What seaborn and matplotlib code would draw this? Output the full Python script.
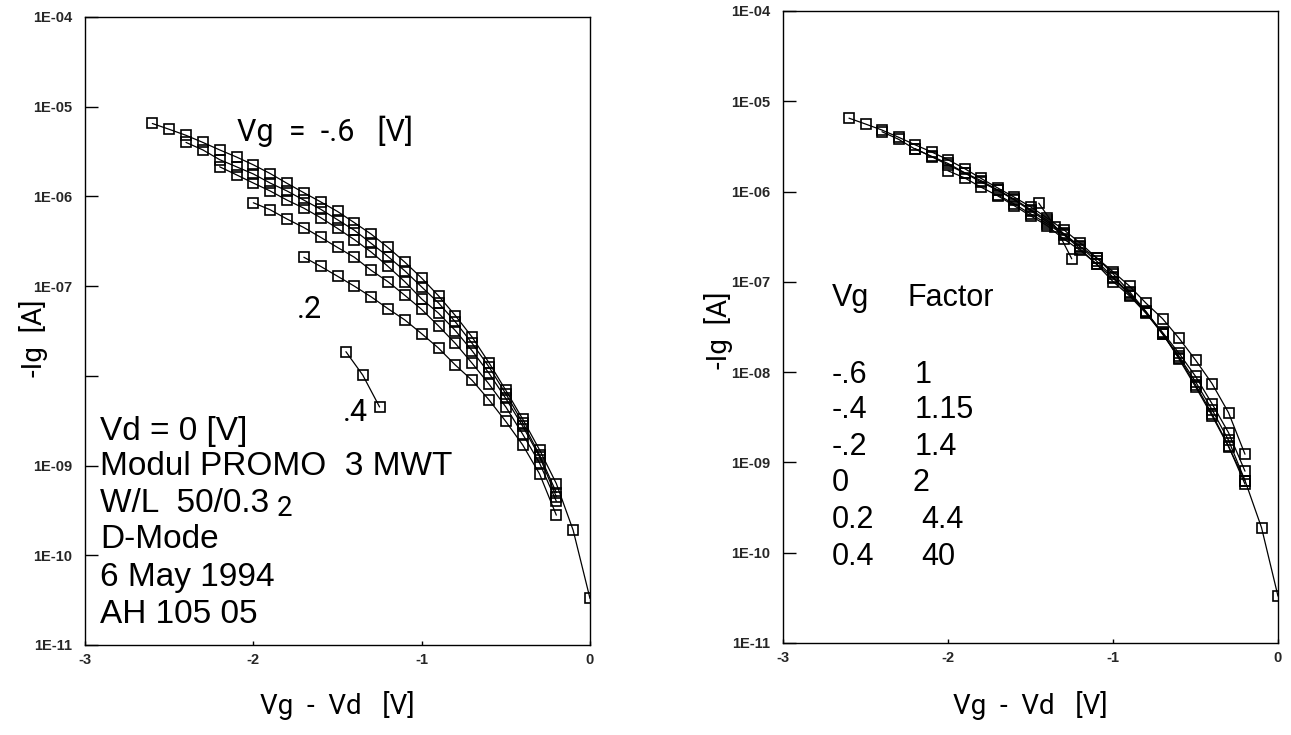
import numpy as np
import pandas as pd
import matplotlib
matplotlib.use("Agg")
import matplotlib.pyplot as plt
import seaborn as sns
from matplotlib.ticker import FixedLocator, NullLocator

# ---------------- data ----------------
vg_labels = ["-.6", "-.4", "-.2", "0", "0.2", "0.4"]
factor_labels = ["1", "1.15", "1.4", "2", "4.4", "40"]
factors = [1.0, 1.15, 1.4, 2.0, 4.4, 40.0]

x_m06 = [-2.6, -2.5, -2.4, -2.3, -2.2, -2.1, -2.0, -1.9, -1.8, -1.7, -1.6, -1.5, -1.4,
         -1.3, -1.2, -1.1, -1.0, -0.9, -0.8, -0.7, -0.6, -0.5, -0.4, -0.3, -0.2, -0.1, 0.0]
ig_m06 = [6.5e-6, 5.6e-6, 4.8e-6, 4.0e-6, 3.3e-6, 2.75e-6, 2.25e-6, 1.8e-6, 1.4e-6, 1.1e-6,
          8.7e-7, 6.8e-7, 5.1e-7, 3.8e-7, 2.7e-7, 1.85e-7, 1.23e-7, 7.8e-8, 4.7e-8, 2.7e-8,
          1.4e-8, 6.9e-9, 3.3e-9, 1.5e-9, 6.3e-10, 1.9e-10, 3.3e-11]

x_m04 = [-2.4, -2.3, -2.2, -2.1, -2.0, -1.9, -1.8, -1.7, -1.6, -1.5, -1.4, -1.3, -1.2,
         -1.1, -1.0, -0.9, -0.8, -0.7, -0.6, -0.5, -0.4, -0.3, -0.2]
ig_m04 = [4.0e-6, 3.3e-6, 2.57e-6, 2.14e-6, 1.78e-6, 1.41e-6, 1.15e-6, 9.1e-7, 7.2e-7,
          5.5e-7, 4.2e-7, 3.0e-7, 2.14e-7, 1.48e-7, 9.8e-8, 6.5e-8, 4.0e-8, 2.3e-8,
          1.26e-8, 6.3e-9, 3.0e-9, 1.32e-9, 5.0e-10]

x_m02 = [-2.2, -2.1, -2.0, -1.9, -1.8, -1.7, -1.6, -1.5, -1.4, -1.3, -1.2, -1.1, -1.0,
         -0.9, -0.8, -0.7, -0.6, -0.5, -0.4, -0.3, -0.2]
ig_m02 = [2.14e-6, 1.74e-6, 1.41e-6, 1.15e-6, 9.1e-7, 7.4e-7, 5.8e-7, 4.4e-7, 3.3e-7,
          2.4e-7, 1.66e-7, 1.12e-7, 7.2e-8, 5.0e-8, 3.2e-8, 1.9e-8, 1.07e-8, 5.6e-9,
          2.75e-9, 1.26e-9, 4.5e-10]

x_0 = [-2.0, -1.9, -1.8, -1.7, -1.6, -1.5, -1.4, -1.3, -1.2, -1.1, -1.0, -0.9, -0.8,
       -0.7, -0.6, -0.5, -0.4, -0.3, -0.2]
ig_0 = [8.5e-7, 7.1e-7, 5.6e-7, 4.5e-7, 3.5e-7, 2.7e-7, 2.1e-7, 1.5e-7, 1.12e-7, 7.9e-8,
        5.5e-8, 3.6e-8, 2.3e-8, 1.38e-8, 8.1e-9, 4.5e-9, 2.24e-9, 1.07e-9, 4.0e-10]

x_p02 = [-1.7, -1.6, -1.5, -1.4, -1.3, -1.2, -1.1, -1.0, -0.9, -0.8, -0.7, -0.6, -0.5,
         -0.4, -0.3, -0.2]
ig_p02 = [2.1e-7, 1.66e-7, 1.29e-7, 1.0e-7, 7.6e-8, 5.6e-8, 4.2e-8, 2.95e-8, 2.04e-8,
          1.32e-8, 8.9e-9, 5.4e-9, 3.1e-9, 1.7e-9, 8.1e-10, 2.8e-10]

x_p04 = [-1.45, -1.35, -1.25]
ig_p04 = [1.86e-8, 1.02e-8, 4.5e-9]

y_tick_values = [1e-11, 1e-10, 1e-9, 1e-8, 1e-7, 1e-6, 1e-5, 1e-4]
y_tick_labels_right = ["1E-11", "1E-10", "1E-09", "1E-08", "1E-07", "1E-06", "1E-05", "1E-04"]
y_tick_labels_left = ["1E-11", "1E-10", "1E-09", "", "1E-07", "1E-06", "1E-05", "1E-04"]
x_tick_values = [-3, -2, -1, 0]
x_tick_labels = ["-3", "-2", "-1", "0"]

# ---------------- build long table ----------------
curves = [(x_m06, ig_m06), (x_m04, ig_m04), (x_m02, ig_m02),
          (x_0, ig_0), (x_p02, ig_p02), (x_p04, ig_p04)]
frames = []
for lab, fac, (xs, ys) in zip(vg_labels, factors, curves):
    frames.append(pd.DataFrame({"curve": lab, "vgvd": xs, "ig": ys,
                                "ig_scaled": np.array(ys) * fac}))
df = pd.concat(frames, ignore_index=True)

# ---------------- figure ----------------
sns.set_theme(style="white")
plt.rcParams['font.family'] = ['Liberation Sans', 'DejaVu Sans']

W, H = 1291, 735
fig = plt.figure(figsize=(W / 100, H / 100), dpi=100)

def rect(x0, y0, x1, y1):
    return [x0 / W, 1 - y1 / H, (x1 - x0) / W, (y1 - y0) / H]

axL = fig.add_axes(rect(85, 17, 590, 645))
axR = fig.add_axes(rect(783, 11, 1278, 643))

kw = dict(x="vgvd", units="curve", estimator=None, sort=False, color="black",
          marker="s", markersize=7, markerfacecolor="none", markeredgecolor="black",
          markeredgewidth=1.2, linewidth=0.9)
sns.lineplot(data=df, y="ig", ax=axL, **kw)
sns.lineplot(data=df, y="ig_scaled", ax=axR, **kw)

for ax, ylabs in ((axL, y_tick_labels_left), (axR, y_tick_labels_right)):
    ax.set_yscale("log")
    ax.set_xlim(-3, 0)
    ax.set_ylim(1e-11, 1e-4)
    ax.yaxis.set_major_locator(FixedLocator(y_tick_values))
    ax.yaxis.set_minor_locator(NullLocator())
    ax.set_yticklabels(ylabs)
    ax.set_xticks(x_tick_values)
    ax.set_xticklabels(x_tick_labels)
    ax.tick_params(axis="y", direction="in", length=9, width=1.0, left=True,
                   labelsize=10.5, pad=9, color="black")
    ax.tick_params(axis="x", direction="in", length=3, width=1.0, bottom=True,
                   labelsize=10.5, pad=6, color="black")
    for lbl in ax.get_yticklabels() + ax.get_xticklabels():
        lbl.set_fontweight("bold")
    for s in ax.spines.values():
        s.set_visible(True)
        s.set_color("black")
        s.set_linewidth(1.0)
    ax.set_xlabel("")
    ax.set_ylabel("")
    ax.set_facecolor("white")
    leg = ax.get_legend()
    if leg is not None:
        leg.remove()

def ftext(x, y, s, **k):
    fig.text(x / W, 1 - y / H, s, **k)

thin = dict(family=["Roboto", "DejaVu Sans"], fontweight="normal", color="black")
arial = dict(family=["Liberation Sans", "DejaVu Sans"], color="black")

# axis labels
ftext(33, 338, "-Ig  [A]", rotation=90, ha="center", va="center", fontsize=20, **thin)
ftext(718, 330, "-Ig  [A]", rotation=90, ha="center", va="center", fontsize=20, **thin)
for cx in (337, 1030):
    ftext(cx, 705, "Vg  -  Vd   [V]", ha="center", va="center", fontsize=20, **thin)

# left panel annotations
ftext(237, 141, "Vg  =  -.6   [V]", ha="left", va="baseline", fontsize=22, **thin)
ftext(297, 318, ".2", ha="left", va="baseline", fontsize=22, **thin)
ftext(343, 421, ".4", ha="left", va="baseline", fontsize=22, **thin)

info_lines = ["Vd = 0 [V]", "Modul PROMO  3 MWT", "W/L  50/0.3", "D-Mode",
              "6 May 1994", "AH 105 05"]
info_base = [440, 475, 512, 548, 586, 623]
for s, b in zip(info_lines, info_base):
    ftext(100, b, s, ha="left", va="baseline", fontsize=24, **arial)
ftext(277, 516, "2", ha="left", va="baseline", fontsize=20, **thin)

# right panel table
ftext(832, 306, "Vg", ha="left", va="baseline", fontsize=22, **arial)
ftext(907, 306, "Factor", ha="left", va="baseline", fontsize=22, **arial)
row_base = [383, 418, 455, 491, 528, 565]
fac_x = [915, 915, 915, 912, 921, 921]
for v, f, b, fx in zip(vg_labels, factor_labels, row_base, fac_x):
    ftext(832, b, v, ha="left", va="baseline", fontsize=22, **arial)
    ftext(fx, b, f, ha="left", va="baseline", fontsize=22, **arial)

fig.savefig("out.png", dpi=100, facecolor="white")
